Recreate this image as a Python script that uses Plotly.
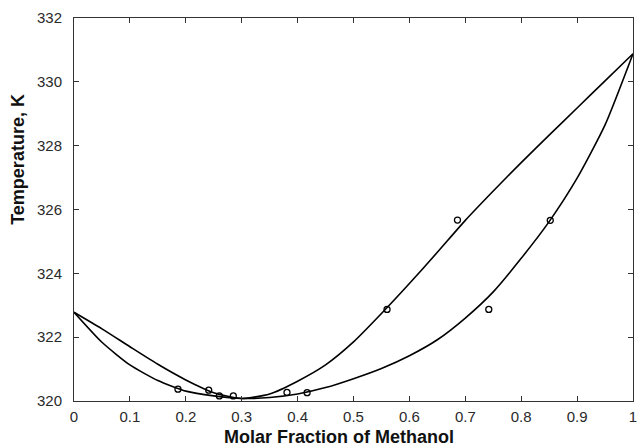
import plotly.graph_objects as go

# Composition grid shared by both curves
curve_x = [0.0, 0.05, 0.10, 0.15, 0.20, 0.25, 0.30, 0.35, 0.40, 0.45, 0.50,
           0.55, 0.60, 0.65, 0.70, 0.75, 0.80, 0.85, 0.90, 0.95, 1.0]

# Upper (dew) curve
upper_t = [322.78, 322.26, 321.70, 321.15, 320.66, 320.26, 320.08, 320.22, 320.62, 321.13,
           321.85, 322.74, 323.68, 324.66, 325.66, 326.58, 327.47, 328.33, 329.18, 330.03,
           330.88]

# Lower (bubble) curve
lower_t = [322.78, 321.84, 321.13, 320.64, 320.31, 320.16, 320.08, 320.11, 320.22, 320.42,
           320.70, 321.02, 321.42, 321.92, 322.60, 323.42, 324.47, 325.62, 326.98, 328.65,
           330.88]

# Experimental points
exp_x = [0.186, 0.241, 0.260, 0.285, 0.381, 0.417, 0.560, 0.686, 0.742, 0.852]
exp_t = [320.37, 320.34, 320.16, 320.16, 320.27, 320.26, 322.87, 325.67, 322.87, 325.66]

x_ticks = [0, 0.1, 0.2, 0.3, 0.4, 0.5, 0.6, 0.7, 0.8, 0.9, 1]
x_tick_text = ["0", "0.1", "0.2", "0.3", "0.4", "0.5", "0.6", "0.7", "0.8", "0.9", "1"]
y_ticks = [320, 322, 324, 326, 328, 330, 332]

fig = go.Figure()
fig.add_trace(go.Scatter(x=curve_x, y=upper_t, mode="lines",
                         line=dict(color="black", width=1.6, shape="spline", smoothing=0.6),
                         showlegend=False))
fig.add_trace(go.Scatter(x=curve_x, y=lower_t, mode="lines",
                         line=dict(color="black", width=1.6, shape="spline", smoothing=0.6),
                         showlegend=False))
fig.add_trace(go.Scatter(x=exp_x, y=exp_t, mode="markers",
                         marker=dict(symbol="circle-open", size=6, color="black",
                                     line=dict(width=1.3, color="black")),
                         showlegend=False))

font_family = "Liberation Sans, Arial, sans-serif"
fig.update_layout(
    width=639, height=446,
    margin=dict(l=74, r=2, t=18, b=45),
    paper_bgcolor="white", plot_bgcolor="white",
    font=dict(family=font_family, size=15, color="#2a2a2a"),
    annotations=[
        dict(text="<b>Molar Fraction of Methanol</b>", xref="paper", yref="paper",
             x=0.474, y=-0.093, xanchor="center", yanchor="middle", showarrow=False,
             font=dict(size=18, color="#111", family=font_family)),
        dict(text="<b>Temperature, K</b>", xref="paper", yref="paper",
             x=-0.10, y=0.63, xanchor="center", yanchor="middle", textangle=-90,
             showarrow=False, font=dict(size=18, color="#111", family=font_family)),
    ],
)
fig.update_xaxes(range=[0, 1], tickvals=x_ticks, ticktext=x_tick_text,
                 ticks="inside", ticklen=5, tickwidth=1, tickcolor="#333",
                 ticklabeloverflow="allow", ticklabelstandoff=2,
                 showline=True, linecolor="#333", linewidth=1, mirror="ticks",
                 showgrid=False, zeroline=False)
fig.update_yaxes(range=[320, 332], tickvals=y_ticks,
                 ticks="inside", ticklen=5, tickwidth=1, tickcolor="#333",
                 ticklabelstandoff=8,
                 showline=True, linecolor="#333", linewidth=1, mirror="ticks",
                 showgrid=False, zeroline=False)

fig.write_html("out.html")
